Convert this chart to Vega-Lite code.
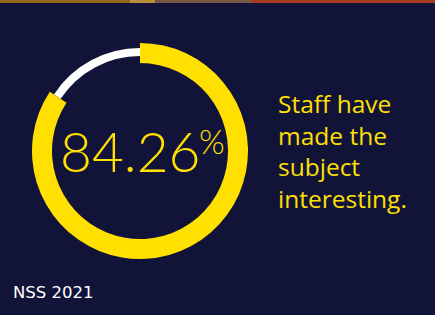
{
  "$schema": "https://vega.github.io/schema/vega-lite/v6.json",
  "width": 435,
  "height": 315,
  "autosize": {"type": "fit", "contains": "padding"},
  "padding": 0,
  "background": "#121339",
  "config": {"view": {"stroke": null}},
  "datasets": {
    "strip": [
      {"x0": 0, "x1": 130, "c": "a"},
      {"x0": 130, "x1": 155, "c": "b"},
      {"x0": 155, "x1": 252, "c": "c"},
      {"x0": 252, "x1": 435, "c": "d"}
    ],
    "ring": [
      {"part": "agree", "start": 0, "end": 84.26, "cx": 140, "cy": 151}
    ],
    "rest": [
      {"part": "other", "start": 84.26, "end": 100, "cx": 140, "cy": 151}
    ],
    "labels": [
      {"t": "84.26", "px": 60, "py": 172},
      {"p": "%", "px": 199, "py": 154}
    ],
    "caption": [
      {"lines": ["Staff have", "made the", "subject", "interesting."], "px": 278, "py": 113}
    ],
    "source": [
      {"s": "NSS 2021", "px": 13, "py": 298}
    ]
  },
  "layer": [
    {
      "data": {"name": "strip"},
      "mark": {"type": "rect"},
      "encoding": {
        "x": {"field": "x0", "type": "quantitative", "scale": {"domain": [0, 435], "nice": false, "zero": false}, "axis": null},
        "x2": {"field": "x1"},
        "y": {"datum": 0, "type": "quantitative", "scale": {"domain": [0, 315], "reverse": true, "nice": false, "zero": false}, "axis": null},
        "y2": {"datum": 3},
        "color": {"field": "c", "type": "nominal", "scale": {"domain": ["a", "b", "c", "d"], "range": ["#93691f", "#b98f3c", "#7a5846", "#a9391f"]}, "legend": null}
      }
    },
    {
      "data": {"name": "rest"},
      "mark": {"type": "arc", "radius": 103, "radius2": 95, "color": "#ffffff"},
      "encoding": {
        "x": {"field": "cx", "type": "quantitative"},
        "y": {"field": "cy", "type": "quantitative"},
        "theta": {"field": "start", "type": "quantitative", "stack": null, "scale": {"domain": [0, 100], "range": [0, 6.283185307]}},
        "theta2": {"field": "end"}
      }
    },
    {
      "data": {"name": "ring"},
      "mark": {"type": "arc", "radius": 108, "radius2": 88, "color": "#ffe000"},
      "encoding": {
        "x": {"field": "cx", "type": "quantitative"},
        "y": {"field": "cy", "type": "quantitative"},
        "theta": {"field": "start", "type": "quantitative", "stack": null},
        "theta2": {"field": "end"}
      }
    },
    {
      "data": {"name": "labels"},
      "transform": [{"filter": "datum.t"}],
      "mark": {"type": "text", "align": "left", "baseline": "alphabetic", "font": "Lato", "fontWeight": 300, "fontSize": 55, "color": "#ffe000"},
      "encoding": {
        "x": {"field": "px", "type": "quantitative"},
        "y": {"field": "py", "type": "quantitative"},
        "text": {"field": "t"}
      }
    },
    {
      "data": {"name": "labels"},
      "transform": [{"filter": "datum.p"}],
      "mark": {"type": "text", "align": "left", "baseline": "alphabetic", "font": "Lato", "fontWeight": 300, "fontSize": 33, "color": "#ffe000"},
      "encoding": {
        "x": {"field": "px", "type": "quantitative"},
        "y": {"field": "py", "type": "quantitative"},
        "text": {"field": "p"}
      }
    },
    {
      "data": {"name": "caption"},
      "mark": {"type": "text", "align": "left", "baseline": "alphabetic", "font": "Open Sans", "fontSize": 24.5, "lineHeight": 31.7, "color": "#ffe000"},
      "encoding": {
        "x": {"field": "px", "type": "quantitative"},
        "y": {"field": "py", "type": "quantitative"},
        "text": {"field": "lines"}
      }
    },
    {
      "data": {"name": "source"},
      "mark": {"type": "text", "align": "left", "baseline": "alphabetic", "font": "DejaVu Sans", "fontSize": 16.5, "color": "#ffffff"},
      "encoding": {
        "x": {"field": "px", "type": "quantitative"},
        "y": {"field": "py", "type": "quantitative"},
        "text": {"field": "s"}
      }
    }
  ]
}
